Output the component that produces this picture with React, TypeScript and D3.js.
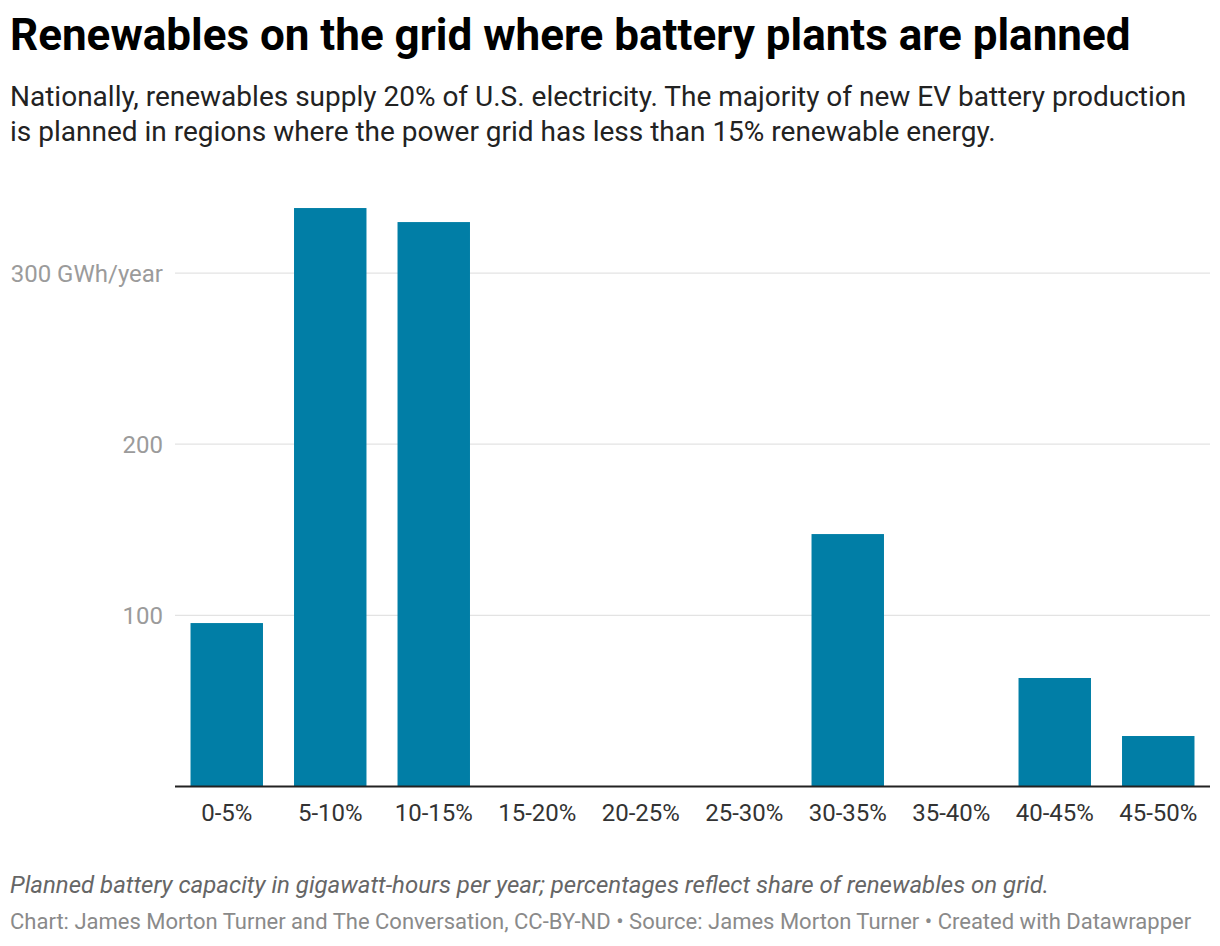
import React from "react";
import * as d3 from "d3";

const categories = [
  "0-5%",
  "5-10%",
  "10-15%",
  "15-20%",
  "20-25%",
  "25-30%",
  "30-35%",
  "35-40%",
  "40-45%",
  "45-50%",
];
const capacity = [95.5, 338, 329.8, 0, 0, 0, 147.5, 0, 63.4, 29.5];
const yTicks = [100, 200, 300];

const WIDTH = 1220;
const HEIGHT = 946;
const FONT = "Roboto, 'Noto Sans', sans-serif";

export default function App() {
  const margin = { left: 175, right: 10, top: 187.5, bottom: 159.5 };
  const baseline = HEIGHT - margin.bottom;

  const xScale = d3
    .scaleBand<string>()
    .domain(categories)
    .range([margin.left, WIDTH - margin.right])
    .paddingInner(0.3)
    .paddingOuter(0.15);

  const yScale = d3.scaleLinear().domain([0, 350]).range([baseline, margin.top]);

  return (
    <div style={{ position: "absolute", left: 0, top: 0 }}>
      <svg width={WIDTH} height={HEIGHT} style={{ display: "block", fontFamily: FONT }}>
        <rect width={WIDTH} height={HEIGHT} fill="#fff" />

        {/* Header */}
        <text x={10} y={50} fontSize={44} fontWeight={700} fill="#000">
          Renewables on the grid where battery plants are planned
        </text>
        <text x={10} y={106} fontSize={28} fill="#222">
          Nationally, renewables supply 20% of U.S. electricity. The majority of new EV battery production
        </text>
        <text x={10} y={141} fontSize={28} fill="#222">
          is planned in regions where the power grid has less than 15% renewable energy.
        </text>

        {/* Grid lines + y labels */}
        {yTicks.map((t) => (
          <g key={t}>
            <line
              x1={margin.left}
              x2={WIDTH - margin.right}
              y1={yScale(t)}
              y2={yScale(t)}
              stroke="#e3e3e3"
              strokeWidth={1.2}
            />
            <text
              x={163}
              y={yScale(t) + 8.5}
              textAnchor="end"
              fontSize={24}
              fill="#9b9b9b"
            >
              {t === 300 ? "300 GWh/year" : t}
            </text>
          </g>
        ))}

        {/* Bars */}
        {categories.map((c, i) =>
          capacity[i] > 0 ? (
            <rect
              key={c}
              x={xScale(c)}
              y={yScale(capacity[i])}
              width={xScale.bandwidth()}
              height={baseline - yScale(capacity[i])}
              fill="#017ea6"
            />
          ) : null
        )}

        {/* Baseline */}
        <line
          x1={margin.left}
          x2={WIDTH - margin.right}
          y1={baseline}
          y2={baseline}
          stroke="#222"
          strokeWidth={2}
        />

        {/* X labels */}
        {categories.map((c) => (
          <text
            key={c}
            x={(xScale(c) ?? 0) + xScale.bandwidth() / 2}
            y={821}
            textAnchor="middle"
            fontSize={24}
            fill="#333"
          >
            {c}
          </text>
        ))}

        {/* Notes */}
        <text x={10} y={893} fontSize={24} fontStyle="italic" fill="#666">
          Planned battery capacity in gigawatt-hours per year; percentages reflect share of renewables on grid.
        </text>
        <text x={10} y={929} fontSize={22} fill="#8a8a8a">
          Chart: James Morton Turner and The Conversation, CC-BY-ND • Source: James Morton Turner • Created with Datawrapper
        </text>
      </svg>
    </div>
  );
}
